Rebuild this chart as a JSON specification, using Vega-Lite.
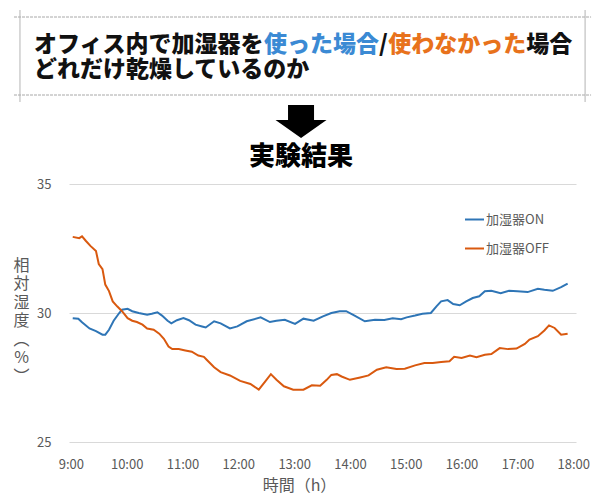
{
  "$schema": "https://vega.github.io/schema/vega-lite/v6.json",
  "padding": {"left": 12, "top": 0, "right": 0, "bottom": 6},
  "background": "white",
  "spacing": 0,
  "resolve": {"scale": {"color": "independent"}, "legend": {"color": "independent"}},
  "config": {
    "view": {"stroke": null},
    "font": "Noto Sans CJK JP"
  },
  "vconcat": [
    {
      "width": 507,
      "height": 178,
      "layer": [
        {
          "data": {"values": [{}]},
          "mark": {"type": "rule", "stroke": "#a8a8a8", "strokeWidth": 1, "strokeDash": [3, 1]},
          "encoding": {
            "x": {"datum": -0.87, "type": "quantitative", "scale": {"domain": [1.5217, 23.565], "nice": false, "zero": false}, "axis": null},
            "x2": {"datum": 24.22},
            "y": {"datum": -0.12, "type": "quantitative", "scale": {"domain": [-0.8, 6.32], "nice": false, "zero": false, "reverse": true}, "axis": null}
          }
        },
        {
          "data": {"values": [{}]},
          "mark": {"type": "rule", "stroke": "#a8a8a8", "strokeWidth": 1, "strokeDash": [3, 1]},
          "encoding": {
            "x": {"datum": -0.87, "type": "quantitative"},
            "x2": {"datum": 24.22},
            "y": {"datum": 3.0, "type": "quantitative"}
          }
        },
        {
          "data": {"values": [{}]},
          "mark": {"type": "rule", "stroke": "#b4b4b4", "strokeWidth": 1},
          "encoding": {
            "x": {"datum": -0.61, "type": "quantitative"},
            "y": {"datum": -0.4, "type": "quantitative"},
            "y2": {"datum": 3.28}
          }
        },
        {
          "data": {"values": [{}]},
          "mark": {"type": "rule", "stroke": "#b4b4b4", "strokeWidth": 1},
          "encoding": {
            "x": {"datum": 23.96, "type": "quantitative"},
            "y": {"datum": -0.4, "type": "quantitative"},
            "y2": {"datum": 3.28}
          }
        },
        {
          "data": {
            "values": [
              {"line": 1, "col": 0, "text": "オフィス内で加湿器を", "tone": "plain"},
              {"line": 1, "col": 10, "text": "使った場合", "tone": "on"},
              {"line": 1, "col": 15, "text": "/", "tone": "plain"},
              {"line": 1, "col": 15.4, "text": "使わなかった", "tone": "off"},
              {"line": 1, "col": 21.4, "text": "場合", "tone": "plain"},
              {"line": 2, "col": 0, "text": "どれだけ乾燥しているのか", "tone": "plain"}
            ]
          },
          "mark": {"type": "text", "align": "left", "baseline": "middle", "fontSize": 23, "fontWeight": 900},
          "encoding": {
            "x": {"field": "col", "type": "quantitative"},
            "y": {"field": "line", "type": "quantitative"},
            "text": {"field": "text"},
            "color": {"field": "tone", "type": "nominal", "scale": {"domain": ["plain", "on", "off"], "range": ["#111111", "#3B8AD4", "#E8721C"]}, "legend": null}
          }
        },
        {
          "data": {"values": [{}]},
          "mark": {"type": "point", "filled": true, "fill": "#000000", "stroke": null, "opacity": 1, "size": 2601,
            "shape": "M-0.51,-0.65L0.51,-0.65L0.51,-0.06L1,-0.06L0,0.65L-1,-0.06L-0.51,-0.06Z"},
          "encoding": {
            "x": {"datum": 11.61, "type": "quantitative"},
            "y": {"datum": 4.06, "type": "quantitative"}
          }
        },
        {
          "data": {"values": [{}]},
          "mark": {"type": "text", "text": "実験結果", "align": "center", "baseline": "middle", "fontSize": 26, "fontWeight": 900, "fill": "#000000"},
          "encoding": {
            "x": {"datum": 11.61, "type": "quantitative"},
            "y": {"datum": 5.48, "type": "quantitative"}
          }
        }
      ]
    },
    {
      "width": 507,
      "height": 258,
      "data": {
        "values": [
          {"series": "加湿器ON", "time": "09:02", "rh": 29.80},
          {"series": "加湿器ON", "time": "09:08", "rh": 29.78},
          {"series": "加湿器ON", "time": "09:12", "rh": 29.64},
          {"series": "加湿器ON", "time": "09:20", "rh": 29.40},
          {"series": "加湿器ON", "time": "09:27", "rh": 29.30},
          {"series": "加湿器ON", "time": "09:34", "rh": 29.16},
          {"series": "加湿器ON", "time": "09:37", "rh": 29.16},
          {"series": "加湿器ON", "time": "09:41", "rh": 29.35},
          {"series": "加湿器ON", "time": "09:46", "rh": 29.70},
          {"series": "加湿器ON", "time": "09:52", "rh": 30.00},
          {"series": "加湿器ON", "time": "09:55", "rh": 30.13},
          {"series": "加湿器ON", "time": "10:01", "rh": 30.16},
          {"series": "加湿器ON", "time": "10:06", "rh": 30.07},
          {"series": "加湿器ON", "time": "10:13", "rh": 30.00},
          {"series": "加湿器ON", "time": "10:22", "rh": 29.93},
          {"series": "加湿器ON", "time": "10:27", "rh": 29.97},
          {"series": "加湿器ON", "time": "10:33", "rh": 30.03},
          {"series": "加湿器ON", "time": "10:38", "rh": 29.90},
          {"series": "加湿器ON", "time": "10:44", "rh": 29.70},
          {"series": "加湿器ON", "time": "10:48", "rh": 29.60},
          {"series": "加湿器ON", "time": "10:54", "rh": 29.72},
          {"series": "加湿器ON", "time": "11:01", "rh": 29.80},
          {"series": "加湿器ON", "time": "11:07", "rh": 29.72},
          {"series": "加湿器ON", "time": "11:14", "rh": 29.55},
          {"series": "加湿器ON", "time": "11:21", "rh": 29.48},
          {"series": "加湿器ON", "time": "11:25", "rh": 29.44},
          {"series": "加湿器ON", "time": "11:34", "rh": 29.68},
          {"series": "加湿器ON", "time": "11:41", "rh": 29.60},
          {"series": "加湿器ON", "time": "11:51", "rh": 29.40},
          {"series": "加湿器ON", "time": "11:59", "rh": 29.48},
          {"series": "加湿器ON", "time": "12:09", "rh": 29.68},
          {"series": "加湿器ON", "time": "12:24", "rh": 29.83},
          {"series": "加湿器ON", "time": "12:34", "rh": 29.65},
          {"series": "加湿器ON", "time": "12:41", "rh": 29.70},
          {"series": "加湿器ON", "time": "12:50", "rh": 29.74},
          {"series": "加湿器ON", "time": "13:01", "rh": 29.58},
          {"series": "加湿器ON", "time": "13:10", "rh": 29.78},
          {"series": "加湿器ON", "time": "13:21", "rh": 29.70},
          {"series": "加湿器ON", "time": "13:31", "rh": 29.87},
          {"series": "加湿器ON", "time": "13:40", "rh": 30.00},
          {"series": "加湿器ON", "time": "13:49", "rh": 30.07},
          {"series": "加湿器ON", "time": "13:56", "rh": 30.07},
          {"series": "加湿器ON", "time": "14:05", "rh": 29.90},
          {"series": "加湿器ON", "time": "14:16", "rh": 29.68},
          {"series": "加湿器ON", "time": "14:27", "rh": 29.74},
          {"series": "加湿器ON", "time": "14:37", "rh": 29.73},
          {"series": "加湿器ON", "time": "14:46", "rh": 29.80},
          {"series": "加湿器ON", "time": "14:55", "rh": 29.76},
          {"series": "加湿器ON", "time": "15:01", "rh": 29.83},
          {"series": "加湿器ON", "time": "15:10", "rh": 29.90},
          {"series": "加湿器ON", "time": "15:18", "rh": 29.97},
          {"series": "加湿器ON", "time": "15:27", "rh": 30.00},
          {"series": "加湿器ON", "time": "15:33", "rh": 30.26},
          {"series": "加湿器ON", "time": "15:38", "rh": 30.45},
          {"series": "加湿器ON", "time": "15:45", "rh": 30.50},
          {"series": "加湿器ON", "time": "15:51", "rh": 30.35},
          {"series": "加湿器ON", "time": "15:58", "rh": 30.30},
          {"series": "加湿器ON", "time": "16:05", "rh": 30.45},
          {"series": "加湿器ON", "time": "16:12", "rh": 30.58},
          {"series": "加湿器ON", "time": "16:19", "rh": 30.65},
          {"series": "加湿器ON", "time": "16:25", "rh": 30.84},
          {"series": "加湿器ON", "time": "16:32", "rh": 30.86},
          {"series": "加湿器ON", "time": "16:42", "rh": 30.77},
          {"series": "加湿器ON", "time": "16:51", "rh": 30.86},
          {"series": "加湿器ON", "time": "17:00", "rh": 30.84},
          {"series": "加湿器ON", "time": "17:11", "rh": 30.81},
          {"series": "加湿器ON", "time": "17:22", "rh": 30.94},
          {"series": "加湿器ON", "time": "17:29", "rh": 30.90},
          {"series": "加湿器ON", "time": "17:38", "rh": 30.86},
          {"series": "加湿器ON", "time": "17:47", "rh": 31.00},
          {"series": "加湿器ON", "time": "17:54", "rh": 31.14},
          {"series": "加湿器OFF", "time": "09:02", "rh": 32.95},
          {"series": "加湿器OFF", "time": "09:09", "rh": 32.90},
          {"series": "加湿器OFF", "time": "09:12", "rh": 32.97},
          {"series": "加湿器OFF", "time": "09:16", "rh": 32.80},
          {"series": "加湿器OFF", "time": "09:21", "rh": 32.60},
          {"series": "加湿器OFF", "time": "09:27", "rh": 32.40},
          {"series": "加湿器OFF", "time": "09:30", "rh": 31.90},
          {"series": "加湿器OFF", "time": "09:34", "rh": 31.70},
          {"series": "加湿器OFF", "time": "09:37", "rh": 31.10},
          {"series": "加湿器OFF", "time": "09:41", "rh": 30.85},
          {"series": "加湿器OFF", "time": "09:45", "rh": 30.45},
          {"series": "加湿器OFF", "time": "09:50", "rh": 30.25},
          {"series": "加湿器OFF", "time": "09:55", "rh": 30.07},
          {"series": "加湿器OFF", "time": "10:01", "rh": 29.80},
          {"series": "加湿器OFF", "time": "10:06", "rh": 29.70},
          {"series": "加湿器OFF", "time": "10:11", "rh": 29.65},
          {"series": "加湿器OFF", "time": "10:17", "rh": 29.55},
          {"series": "加湿器OFF", "time": "10:22", "rh": 29.40},
          {"series": "加湿器OFF", "time": "10:29", "rh": 29.35},
          {"series": "加湿器OFF", "time": "10:35", "rh": 29.20},
          {"series": "加湿器OFF", "time": "10:40", "rh": 29.00},
          {"series": "加湿器OFF", "time": "10:45", "rh": 28.70},
          {"series": "加湿器OFF", "time": "10:49", "rh": 28.60},
          {"series": "加湿器OFF", "time": "10:56", "rh": 28.60},
          {"series": "加湿器OFF", "time": "11:03", "rh": 28.55},
          {"series": "加湿器OFF", "time": "11:10", "rh": 28.50},
          {"series": "加湿器OFF", "time": "11:17", "rh": 28.35},
          {"series": "加湿器OFF", "time": "11:23", "rh": 28.30},
          {"series": "加湿器OFF", "time": "11:26", "rh": 28.19},
          {"series": "加湿器OFF", "time": "11:34", "rh": 27.90},
          {"series": "加湿器OFF", "time": "11:41", "rh": 27.71},
          {"series": "加湿器OFF", "time": "11:51", "rh": 27.58},
          {"series": "加湿器OFF", "time": "12:02", "rh": 27.37},
          {"series": "加湿器OFF", "time": "12:13", "rh": 27.25},
          {"series": "加湿器OFF", "time": "12:22", "rh": 27.03},
          {"series": "加湿器OFF", "time": "12:29", "rh": 27.35},
          {"series": "加湿器OFF", "time": "12:35", "rh": 27.63},
          {"series": "加湿器OFF", "time": "12:41", "rh": 27.41},
          {"series": "加湿器OFF", "time": "12:49", "rh": 27.16},
          {"series": "加湿器OFF", "time": "12:59", "rh": 27.03},
          {"series": "加湿器OFF", "time": "13:10", "rh": 27.03},
          {"series": "加湿器OFF", "time": "13:19", "rh": 27.20},
          {"series": "加湿器OFF", "time": "13:28", "rh": 27.18},
          {"series": "加湿器OFF", "time": "13:35", "rh": 27.41},
          {"series": "加湿器OFF", "time": "13:40", "rh": 27.60},
          {"series": "加湿器OFF", "time": "13:46", "rh": 27.63},
          {"series": "加湿器OFF", "time": "13:51", "rh": 27.54},
          {"series": "加湿器OFF", "time": "14:00", "rh": 27.41},
          {"series": "加湿器OFF", "time": "14:11", "rh": 27.50},
          {"series": "加湿器OFF", "time": "14:20", "rh": 27.58},
          {"series": "加湿器OFF", "time": "14:29", "rh": 27.80},
          {"series": "加湿器OFF", "time": "14:39", "rh": 27.90},
          {"series": "加湿器OFF", "time": "14:50", "rh": 27.83},
          {"series": "加湿器OFF", "time": "14:59", "rh": 27.84},
          {"series": "加湿器OFF", "time": "15:10", "rh": 27.97},
          {"series": "加湿器OFF", "time": "15:20", "rh": 28.06},
          {"series": "加湿器OFF", "time": "15:29", "rh": 28.06},
          {"series": "加湿器OFF", "time": "15:38", "rh": 28.10},
          {"series": "加湿器OFF", "time": "15:47", "rh": 28.13},
          {"series": "加湿器OFF", "time": "15:52", "rh": 28.30},
          {"series": "加湿器OFF", "time": "16:00", "rh": 28.26},
          {"series": "加湿器OFF", "time": "16:09", "rh": 28.35},
          {"series": "加湿器OFF", "time": "16:16", "rh": 28.29},
          {"series": "加湿器OFF", "time": "16:25", "rh": 28.38},
          {"series": "加湿器OFF", "time": "16:32", "rh": 28.41},
          {"series": "加湿器OFF", "time": "16:41", "rh": 28.64},
          {"series": "加湿器OFF", "time": "16:50", "rh": 28.60},
          {"series": "加湿器OFF", "time": "16:59", "rh": 28.62},
          {"series": "加湿器OFF", "time": "17:08", "rh": 28.80},
          {"series": "加湿器OFF", "time": "17:13", "rh": 28.97},
          {"series": "加湿器OFF", "time": "17:22", "rh": 29.10},
          {"series": "加湿器OFF", "time": "17:29", "rh": 29.32},
          {"series": "加湿器OFF", "time": "17:34", "rh": 29.52},
          {"series": "加湿器OFF", "time": "17:40", "rh": 29.42},
          {"series": "加湿器OFF", "time": "17:47", "rh": 29.16},
          {"series": "加湿器OFF", "time": "17:54", "rh": 29.20}
        ],
        "format": {"parse": {"time": "utc:'%H:%M'"}}
      },
      "mark": {"type": "line", "strokeWidth": 2},
      "encoding": {
        "x": {
          "field": "time",
          "type": "temporal",
          "scale": {
            "type": "utc",
            "domain": [
              {"year": 1900, "month": 1, "date": 1, "hours": 8, "minutes": 58, "utc": true},
              {"year": 1900, "month": 1, "date": 1, "hours": 18, "minutes": 3, "utc": true}
            ]
          },
          "axis": {
            "values": [
              {"year": 1900, "month": 1, "date": 1, "hours": 9, "utc": true},
              {"year": 1900, "month": 1, "date": 1, "hours": 10, "utc": true},
              {"year": 1900, "month": 1, "date": 1, "hours": 11, "utc": true},
              {"year": 1900, "month": 1, "date": 1, "hours": 12, "utc": true},
              {"year": 1900, "month": 1, "date": 1, "hours": 13, "utc": true},
              {"year": 1900, "month": 1, "date": 1, "hours": 14, "utc": true},
              {"year": 1900, "month": 1, "date": 1, "hours": 15, "utc": true},
              {"year": 1900, "month": 1, "date": 1, "hours": 16, "utc": true},
              {"year": 1900, "month": 1, "date": 1, "hours": 17, "utc": true},
              {"year": 1900, "month": 1, "date": 1, "hours": 18, "utc": true}
            ],
            "format": "%-H:%M",
            "title": "時間（h）",
            "grid": false,
            "domain": false,
            "ticks": false,
            "tickSize": 0,
            "labelPadding": 16,
            "labelFontSize": 13,
            "labelColor": "#595959",
            "labelFlush": false,
            "labelOverlap": false,
            "titleFontSize": 16,
            "titleFontWeight": "normal",
            "titleColor": "#595959",
            "titlePadding": 6,
            "titleX": 230
          }
        },
        "y": {
          "field": "rh",
          "type": "quantitative",
          "scale": {"domain": [25, 35], "zero": false, "nice": false},
          "axis": {
            "values": [25, 30, 35],
            "grid": true,
            "gridColor": "#d9d9d9",
            "gridWidth": 1,
            "domain": false,
            "ticks": false,
            "tickSize": 0,
            "labelPadding": 18,
            "labelFontSize": 13,
            "labelColor": "#595959",
            "title": ["相", "対", "湿", "度", "︵", "%", "︶"],
            "titleAngle": 0,
            "titleAlign": "center",
            "titleBaseline": "middle",
            "titleFontSize": 16,
            "titleFontWeight": "normal",
            "titleColor": "#595959",
            "titleLineHeight": 18.5,
            "titleX": -48,
            "titleY": 81
          }
        },
        "color": {
          "field": "series",
          "type": "nominal",
          "scale": {"domain": ["加湿器ON", "加湿器OFF"], "range": ["#2E75B6", "#D9590F"]},
          "legend": {
            "title": null,
            "orient": "none",
            "legendX": 395,
            "legendY": 25,
            "symbolType": "stroke",
            "symbolSize": 361,
            "symbolStrokeWidth": 2,
            "labelFontSize": 13,
            "labelColor": "#595959",
            "labelOffset": 1,
            "rowPadding": 11,
            "padding": 0
          }
        }
      }
    }
  ]
}
